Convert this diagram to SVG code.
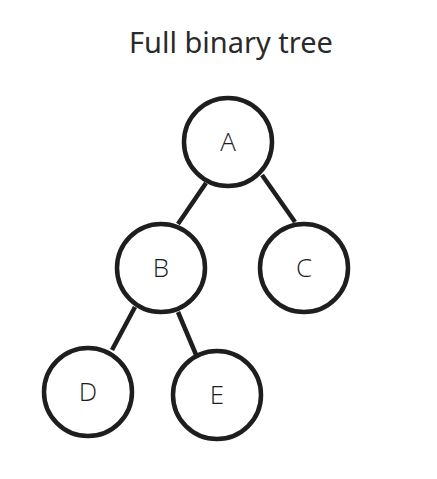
<svg xmlns="http://www.w3.org/2000/svg" width="437" height="479" viewBox="0 0 437 479">
<style>
.node circle{fill:#fff;stroke:#1e1e1e;stroke-width:4.5}
.node text{font-family:"Open Sans","Liberation Sans",sans-serif;font-weight:300;font-size:26px;fill:#1e1e1e;text-anchor:middle}
.edges line{stroke:#1e1e1e;stroke-width:4.5;stroke-linecap:butt}
.title{font-family:"Noto Sans","Open Sans",sans-serif;font-size:29px;fill:#2a2a2a;text-anchor:middle}
</style>
<rect width="437" height="479" fill="#fff"/>
<text class="title" x="231" y="53">Full binary tree</text>
<g class="edges">
<line x1="206" y1="183" x2="178" y2="224"/>
<line x1="262" y1="175" x2="295" y2="222"/>
<line x1="135" y1="307" x2="112" y2="350"/>
<line x1="178" y1="312" x2="197" y2="357"/>
</g>
<g id="node-A" class="node"><circle cx="228" cy="142" r="44"/><text x="228" y="151">A</text></g>
<g id="node-B" class="node"><circle cx="161" cy="268" r="44"/><text x="161" y="277">B</text></g>
<g id="node-C" class="node"><circle cx="304" cy="268" r="44"/><text x="304" y="277">C</text></g>
<g id="node-D" class="node"><circle cx="88" cy="392" r="44"/><text x="88" y="401">D</text></g>
<g id="node-E" class="node"><circle cx="217" cy="395" r="44"/><text x="217" y="404">E</text></g>
</svg>
